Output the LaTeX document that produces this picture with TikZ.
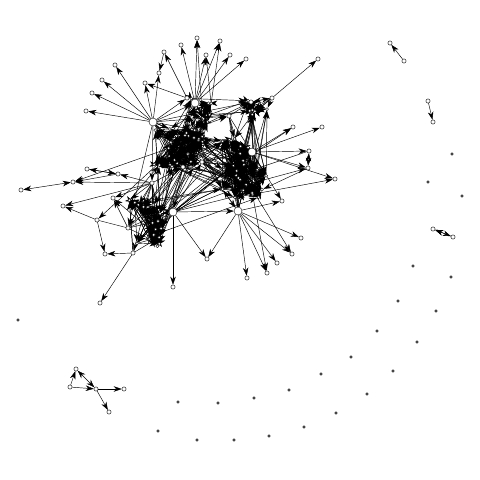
\documentclass[tikz,border=0pt]{standalone}
\usetikzlibrary{arrows.meta}
\pgfdeclarelayer{back}
\pgfdeclarelayer{bg}
\pgfsetlayers{back,bg,main}
\newcommand{\myrandedges}[5]{%
 \foreach \k in {1,...,#5}{%
  \pgfmathtruncatemacro{\ra}{random(1,#2)}%
  \pgfmathtruncatemacro{\rb}{random(1,#4)}%
  \ifnum\ra=\rb\relax\else\draw[e] (#1\ra) -- (#3\rb);\fi
 }}
\newcommand{\myhubedges}[4]{%
 \foreach \k in {1,...,#4}{%
  \pgfmathtruncatemacro{\rb}{random(1,#3)}%
  \draw[e] (#1) -- (#2\rb);
 }}
\newcommand{\mycluster}[6]{%
 \foreach \i in {1,...,#2}{%
  \pgfmathsetmacro{\px}{#3+#5*(2*rnd-1)}%
  \pgfmathsetmacro{\py}{#4+#6*(2*rnd-1)}%
  \node[cv] (#1\i) at (\px,\py) {};
 }}
\begin{document}
\begin{tikzpicture}[x=1pt,y=-1pt,
 v/.style={circle,draw,fill=white,inner sep=0pt,minimum size=4.2pt,line width=0.4pt},
 cv/.style={circle,draw,fill=white,inner sep=0pt,minimum size=3pt,line width=0.4pt},
 hub/.style={v,minimum size=8pt},
 dot/.style={circle,draw,fill=white,inner sep=0pt,minimum size=2.6pt,line width=0.5pt},
 e/.style={-{Stealth[length=8pt,width=5.5pt,inset=2.5pt]},line width=0.45pt},
 ee/.style={{Stealth[length=8pt,width=5.5pt,inset=2.5pt]}-{Stealth[length=8pt,width=5.5pt,inset=2.5pt]},line width=0.45pt}]
\begin{pgfonlayer}{back}
\fill[white] (0,0) rectangle (480,480);
\end{pgfonlayer}
\useasboundingbox (0,0) rectangle (480,480);
\pgfmathsetseed{4711}
% dense clusters
\mycluster{p}{26}{179}{147}{25}{21}
\mycluster{q}{26}{243}{170}{24}{32}
\mycluster{s}{16}{145}{222}{17}{27}
\mycluster{t}{8}{199}{110}{13}{13}
\mycluster{u}{6}{259}{110}{11}{10}
% hubs and named inner nodes
\node[hub] (A) at (153,122) {};
\node[hub] (B) at (195,103) {};
\node[hub] (E) at (252,152) {};
\node[hub] (C) at (238,211) {};
\node[hub] (D) at (173,212) {};
\node[v] (b0) at (187,98) {};
\node[v] (N1) at (152,183) {};
\node[v] (N2) at (183,167) {};
\node[v] (N3) at (202,162) {};
\node[v] (N4) at (229,116) {};
\node[v] (R1) at (251,102) {};
\node[v] (R2) at (272,98) {};
\node[v] (L3a) at (128,228) {};
\node[v] (L3b) at (133,253) {};
% outer nodes
\node[v] (a1) at (86,111) {};
\node[v] (a2) at (92,93) {};
\node[v] (a3) at (102,80) {};
\node[v] (a4) at (115,65) {};
\node[v] (a5) at (145,83) {};
\node[v] (a6) at (159,73) {};
\node[v] (a7) at (164,52) {};
\node[v] (t01) at (181,45) {};
\node[v] (t02) at (197,38) {};
\node[v] (t03) at (206,55) {};
\node[v] (t04) at (220,41) {};
\node[v] (t05) at (230,55) {};
\node[v] (t06) at (246,59) {};
\node[v] (r0) at (318,59) {};
\node[v] (r1) at (293,127) {};
\node[v] (r2) at (322,127) {};
\node[v] (r3) at (309,151) {};
\node[v] (r4) at (308,168) {};
\node[v] (r5) at (335,179) {};
\node[v] (r6) at (282,201) {};
\node[v] (c1) at (247,278) {};
\node[v] (c2) at (267,273) {};
\node[v] (c3) at (277,263) {};
\node[v] (c4) at (292,254) {};
\node[v] (c5) at (301,238) {};
\node[v] (c6) at (207,259) {};
\node[v] (d1) at (173,287) {};
\node[v] (l1) at (21,190) {};
\node[v] (l2) at (73,182) {};
\node[v] (l3) at (87,169) {};
\node[v] (l4) at (118,174) {};
\node[v] (l5) at (63,206) {};
\node[v] (l6) at (97,220) {};
\node[v] (l7) at (105,254) {};
\node[v] (l8) at (113,198) {};
\node[v] (l9) at (100,303) {};
% small components
\node[v] (x1) at (390,43) {};
\node[v] (x2) at (404,61) {};
\node[v] (y1) at (428,101) {};
\node[v] (y2) at (433,122) {};
\node[v] (z1) at (433,229) {};
\node[v] (z2) at (453,237) {};
\node[v] (m1) at (76,369) {};
\node[v] (m2) at (70,387) {};
\node[v] (m3) at (96,389) {};
\node[v] (m4) at (124,389) {};
\node[v] (m5) at (109,412) {};
% isolated vertices
\foreach \xx/\yy [count=\n] in {18/320,452/154,428/182,462/196,413/266,451/277,398/301,436/311,377/331,417/342,351/357,393/371,321/374,367/394,289/390,336/413,254/398,304/427,178/402,218/403,269/436,158/431,197/440,234/440}
  \node[dot] (iso\n) at (\xx,\yy) {};
\begin{pgfonlayer}{bg}
% intra-cluster
\myrandedges{p}{26}{p}{26}{170}
\myrandedges{q}{26}{q}{26}{170}
\myrandedges{s}{16}{s}{16}{100}
\myrandedges{t}{8}{t}{8}{28}
\myrandedges{u}{6}{u}{6}{18}
% inter-cluster
\myrandedges{p}{26}{q}{26}{22}
\myrandedges{q}{26}{p}{26}{14}
\myrandedges{p}{26}{s}{16}{14}
\myrandedges{s}{16}{p}{26}{10}
\myrandedges{p}{26}{t}{8}{16}
\myrandedges{t}{8}{p}{26}{10}
\myrandedges{q}{26}{u}{6}{12}
\myrandedges{u}{6}{q}{26}{8}
\myrandedges{s}{16}{q}{26}{6}
\myrandedges{t}{8}{u}{6}{5}
% hubs into clusters
\myhubedges{A}{p}{26}{10}
\myhubedges{B}{t}{8}{8}
\myhubedges{B}{p}{26}{6}
\myhubedges{E}{q}{26}{14}
\myhubedges{C}{q}{26}{10}
\myhubedges{D}{s}{16}{8}
\myhubedges{D}{q}{26}{6}
\myhubedges{N1}{s}{16}{10}
\myhubedges{N2}{q}{26}{6}
\myhubedges{N3}{q}{26}{6}
\myhubedges{N4}{q}{26}{5}
\myhubedges{R1}{u}{6}{4}
\myhubedges{R2}{u}{6}{4}
\myhubedges{L3a}{s}{16}{4}
\myhubedges{L3b}{s}{16}{4}
% hub spokes
\foreach \o in {a1,a2,a3,a4,a5,a6} \draw[e] (A) -- (\o);
\draw[e] (b0) -- (a7);
\draw[e] (b0) -- (a5);
\draw[e] (a7) -- (a6);
\foreach \o in {t01,t02,t03,t04,t05,t06} \draw[e] (B) -- (\o);
\draw[e] (t1) -- (t02);
\draw[e] (t2) -- (t04);
\draw[e] (t3) -- (t03);
\draw[e] (A) -- (b0);
\draw[e] (A) -- (B);
\draw[e] (A) -- (R1);
\draw[e] (A) -- (N4);
\draw[e] (p3) -- (R1);
\draw[e] (p7) -- (N4);
\draw[e] (N4) -- (R1);
\draw[e] (R2) -- (r0);
\draw[e] (R1) -- (R2);
\draw[e] (R2) -- (R1);
\foreach \o in {r1,r2,r3,r4,r5,r6} \draw[e] (E) -- (\o);
\draw[e] (q5) -- (r1);
\draw[e] (q9) -- (r4);
\draw[e] (q12) -- (r5);
\draw[ee] (r3) -- (r4);
\draw[e] (r4) -- (q3);
\draw[e] (r3) -- (q8);
\foreach \o in {c1,c2,c3,c4,c5,c6,r6} \draw[e] (C) -- (\o);
\draw[e] (q14) -- (c4);
\draw[e] (q2) -- (c2);
\draw[e] (D) -- (d1);
\draw[e] (D) -- (c6);
\draw[e] (D) -- (C);
\draw[e] (D) -- (N3);
\draw[e] (N2) -- (D);
\draw[e] (N3) -- (C);
\draw[e] (D) -- (q4);
\draw[e] (D) -- (q10);
\draw[e] (D) -- (E);
\draw[e] (N1) -- (N2);
\draw[e] (N2) -- (N3);
\draw[e] (N3) -- (E);
\draw[e] (A) -- (N1);
\draw[e] (A) -- (N2);
\draw[e] (C) -- (E);
% left part
\draw[ee] (l2) -- (l1);
\draw[e] (l4) -- (l2);
\draw[e] (l4) -- (l3);
\draw[e] (N1) -- (l2);
\draw[e] (p2) -- (l2);
\draw[e] (N1) -- (l4);
\draw[e] (l3) -- (l4);
\draw[e] (l6) -- (l5);
\draw[e] (N1) -- (l5);
\draw[e] (l6) -- (l7);
\draw[e] (L3b) -- (l7);
\draw[e] (L3b) -- (l9);
\draw (l6) -- (L3a);
\draw[e] (p1) -- (l6);
\draw[e] (N1) -- (l8);
\draw[e] (L3a) -- (l8);
\draw[e] (s2) -- (l8);
\draw[e] (A) -- (L3a);
\draw[e] (N1) -- (L3a);
\draw[e] (N1) -- (L3b);
% small components
\draw[e] (x2) -- (x1);
\draw[e] (y1) -- (y2);
\draw[ee] (z1) -- (z2);
\draw[e] (z2) -- (z1);
\draw[e] (m2) -- (m1);
\draw[ee] (m1) -- (m3);
\draw[e] (m2) -- (m3);
\draw[e] (m3) -- (m4);
\draw[e] (m3) -- (m5);
\end{pgfonlayer}
\end{tikzpicture}
\end{document}
